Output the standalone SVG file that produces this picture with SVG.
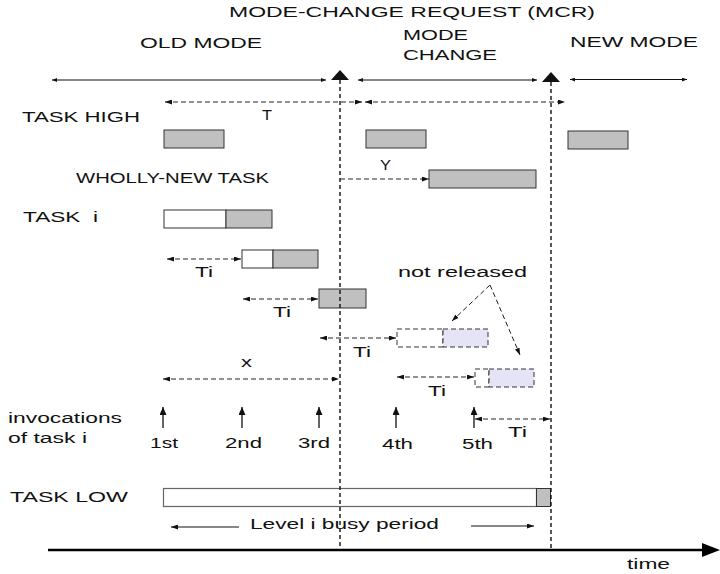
<svg xmlns="http://www.w3.org/2000/svg" width="720" height="574" viewBox="0 0 720 574">
<style>
text{font-family:"Liberation Sans",Arial,sans-serif;fill:#111;font-size:14px}
.s{stroke:#111;stroke-width:1;fill:none}
.d{stroke:#222;stroke-width:1;fill:none;stroke-dasharray:5 3}
.v{stroke:#111;stroke-width:1.4;fill:none;stroke-dasharray:4 3}
.g{fill:#c0c0c0;stroke:#333;stroke-width:1}
.w{fill:#fff;stroke:#333;stroke-width:1}
.db{fill:#e4e4f6;stroke:#333;stroke-width:1;stroke-dasharray:5 3}
.dw{fill:#fff;stroke:#333;stroke-width:1;stroke-dasharray:5 3}
</style>
<defs>
<marker id="ah" viewBox="0 0 7 5" refX="7" refY="2.5" markerWidth="7" markerHeight="5" markerUnits="userSpaceOnUse" orient="auto-start-reverse"><path d="M0,0 L7,2.5 L0,5 z" fill="#111"/></marker>
<marker id="sm" viewBox="0 0 5 4" refX="5" refY="2" markerWidth="5" markerHeight="4" markerUnits="userSpaceOnUse" orient="auto-start-reverse"><path d="M0,0 L5,2 L0,4 z" fill="#111"/></marker>
<marker id="up" viewBox="0 0 8 7" refX="8" refY="3.5" markerWidth="8" markerHeight="7" markerUnits="userSpaceOnUse" orient="auto"><path d="M0,0 L8,3.5 L0,7 z" fill="#111"/></marker>
</defs>
<rect width="720" height="574" fill="#fff"/>

<g id="headers">
<text x="229" y="17" font-size="15" textLength="366" lengthAdjust="spacingAndGlyphs">MODE-CHANGE REQUEST (MCR)</text>
<text x="140" y="48" textLength="122" lengthAdjust="spacingAndGlyphs">OLD MODE</text>
<text x="403" y="40" textLength="65" lengthAdjust="spacingAndGlyphs">MODE</text>
<text x="403" y="60" textLength="94" lengthAdjust="spacingAndGlyphs">CHANGE</text>
<text x="570" y="47" textLength="128" lengthAdjust="spacingAndGlyphs">NEW MODE</text>
<polygon points="331,80 340,70 349,80" fill="#111"/>
<polygon points="542,82 551,72 560,82" fill="#111"/>
</g>

<g id="task-high">
<text x="22" y="122" textLength="118" lengthAdjust="spacingAndGlyphs">TASK HIGH</text>
<rect class="g" x="164" y="130" width="60" height="18"/>
<rect class="g" x="366" y="130" width="60" height="18"/>
<rect class="g" x="568" y="131" width="60" height="18"/>
<text x="262" y="120" textLength="10" lengthAdjust="spacingAndGlyphs">T</text>
</g>

<g id="wholly-new-task">
<text x="76" y="183" font-size="12.5" textLength="193" lengthAdjust="spacingAndGlyphs">WHOLLY-NEW TASK</text>
<rect class="g" x="429" y="170" width="107" height="18"/>
<text x="380" y="170" font-size="11" textLength="11" lengthAdjust="spacingAndGlyphs">Y</text>
</g>

<g id="task-i">
<text x="23" y="222" xml:space="preserve" textLength="75" lengthAdjust="spacingAndGlyphs">TASK  i</text>
<rect class="w" x="164" y="210" width="62" height="18"/>
<rect class="g" x="226" y="210" width="46" height="18"/>
<rect class="w" x="242" y="250" width="31" height="18"/>
<rect class="g" x="273" y="250" width="45" height="18"/>
<rect class="g" x="319" y="289" width="47" height="19"/>
<rect class="dw" x="397" y="329" width="46" height="18"/>
<rect class="db" x="443" y="329" width="45" height="18"/>
<rect class="dw" x="475" y="369" width="14" height="18"/>
<rect class="db" x="489" y="369" width="45" height="18"/>
<text x="195" y="277" textLength="18" lengthAdjust="spacingAndGlyphs">Ti</text>
<text x="273" y="317" textLength="18" lengthAdjust="spacingAndGlyphs">Ti</text>
<text x="353" y="357" textLength="18" lengthAdjust="spacingAndGlyphs">Ti</text>
<text x="428" y="396" textLength="18" lengthAdjust="spacingAndGlyphs">Ti</text>
<text x="508" y="437" textLength="19" lengthAdjust="spacingAndGlyphs">Ti</text>
<text x="241" y="367" textLength="11" lengthAdjust="spacingAndGlyphs">x</text>
<text x="398" y="277" font-size="15" textLength="129" lengthAdjust="spacingAndGlyphs">not released</text>
</g>

<g id="invocations">
<text x="8" y="423" textLength="114" lengthAdjust="spacingAndGlyphs">invocations</text>
<text x="8" y="443" textLength="79" lengthAdjust="spacingAndGlyphs">of task i</text>
<text x="150" y="448" textLength="28" lengthAdjust="spacingAndGlyphs">1st</text>
<text x="225" y="448" textLength="37" lengthAdjust="spacingAndGlyphs">2nd</text>
<text x="298" y="448" textLength="32" lengthAdjust="spacingAndGlyphs">3rd</text>
<text x="382" y="449" textLength="31" lengthAdjust="spacingAndGlyphs">4th</text>
<text x="462" y="449" textLength="31" lengthAdjust="spacingAndGlyphs">5th</text>
</g>

<g id="task-low">
<text x="10" y="502" textLength="118" lengthAdjust="spacingAndGlyphs">TASK LOW</text>
<rect x="163.5" y="488.5" width="373" height="18" fill="#fff" stroke="#666" stroke-width="1.2"/>
<rect class="g" x="536.5" y="488.5" width="14" height="18"/>
<text x="250" y="529" textLength="189" lengthAdjust="spacingAndGlyphs">Level i busy period</text>
</g>

<g id="time-axis">
<line x1="48" y1="550" x2="705" y2="550" stroke="#000" stroke-width="2.5"/>
<polygon points="702,543 720,550 702,557" fill="#000"/>
<text x="627" y="569" textLength="43" lengthAdjust="spacingAndGlyphs">time</text>
</g>

<g id="connectors">
<line class="v" x1="340" y1="80" x2="340" y2="550"/>
<line class="v" x1="551" y1="82" x2="551" y2="550"/>
<line class="s" x1="52" y1="80" x2="326" y2="80" marker-start="url(#sm)" marker-end="url(#sm)"/>
<line class="s" x1="358" y1="80" x2="537" y2="80" marker-start="url(#sm)" marker-end="url(#sm)"/>
<line class="s" x1="570" y1="79.5" x2="687" y2="79.5" marker-start="url(#sm)" marker-end="url(#sm)"/>
<line class="d" x1="165" y1="102" x2="362" y2="102" marker-start="url(#ah)" marker-end="url(#ah)"/>
<line class="d" x1="365" y1="102" x2="565" y2="102" marker-start="url(#ah)" marker-end="url(#ah)"/>
<line class="d" x1="340" y1="179" x2="429" y2="179" marker-end="url(#ah)"/>
<line class="d" x1="167" y1="259" x2="241" y2="259" marker-start="url(#ah)" marker-end="url(#ah)"/>
<line class="d" x1="243" y1="299" x2="318" y2="299" marker-start="url(#ah)" marker-end="url(#ah)"/>
<line class="d" x1="320" y1="338" x2="396" y2="338" marker-start="url(#ah)" marker-end="url(#ah)"/>
<line class="d" x1="397" y1="377" x2="474" y2="377" marker-start="url(#ah)" marker-end="url(#ah)"/>
<line class="d" x1="163" y1="379" x2="339" y2="379" marker-start="url(#ah)" marker-end="url(#ah)"/>
<line class="d" x1="475" y1="419" x2="550" y2="419" marker-start="url(#ah)" marker-end="url(#ah)"/>
<line class="d" x1="490" y1="285" x2="452" y2="321" marker-end="url(#ah)"/>
<line class="d" x1="490" y1="285" x2="520" y2="355" marker-end="url(#ah)"/>
<line stroke="#111" stroke-width="1.3" x1="163" y1="428" x2="163" y2="407" marker-end="url(#up)"/>
<line stroke="#111" stroke-width="1.3" x1="242" y1="428" x2="242" y2="407" marker-end="url(#up)"/>
<line stroke="#111" stroke-width="1.3" x1="319" y1="428" x2="319" y2="407" marker-end="url(#up)"/>
<line stroke="#111" stroke-width="1.3" x1="396" y1="428" x2="396" y2="407" marker-end="url(#up)"/>
<line stroke="#111" stroke-width="1.3" x1="474" y1="428" x2="474" y2="407" marker-end="url(#up)"/>
<line class="s" x1="239" y1="527" x2="171" y2="527" marker-end="url(#ah)"/>
<line class="s" x1="471" y1="526" x2="534" y2="526" marker-end="url(#ah)"/>
</g>
</svg>
